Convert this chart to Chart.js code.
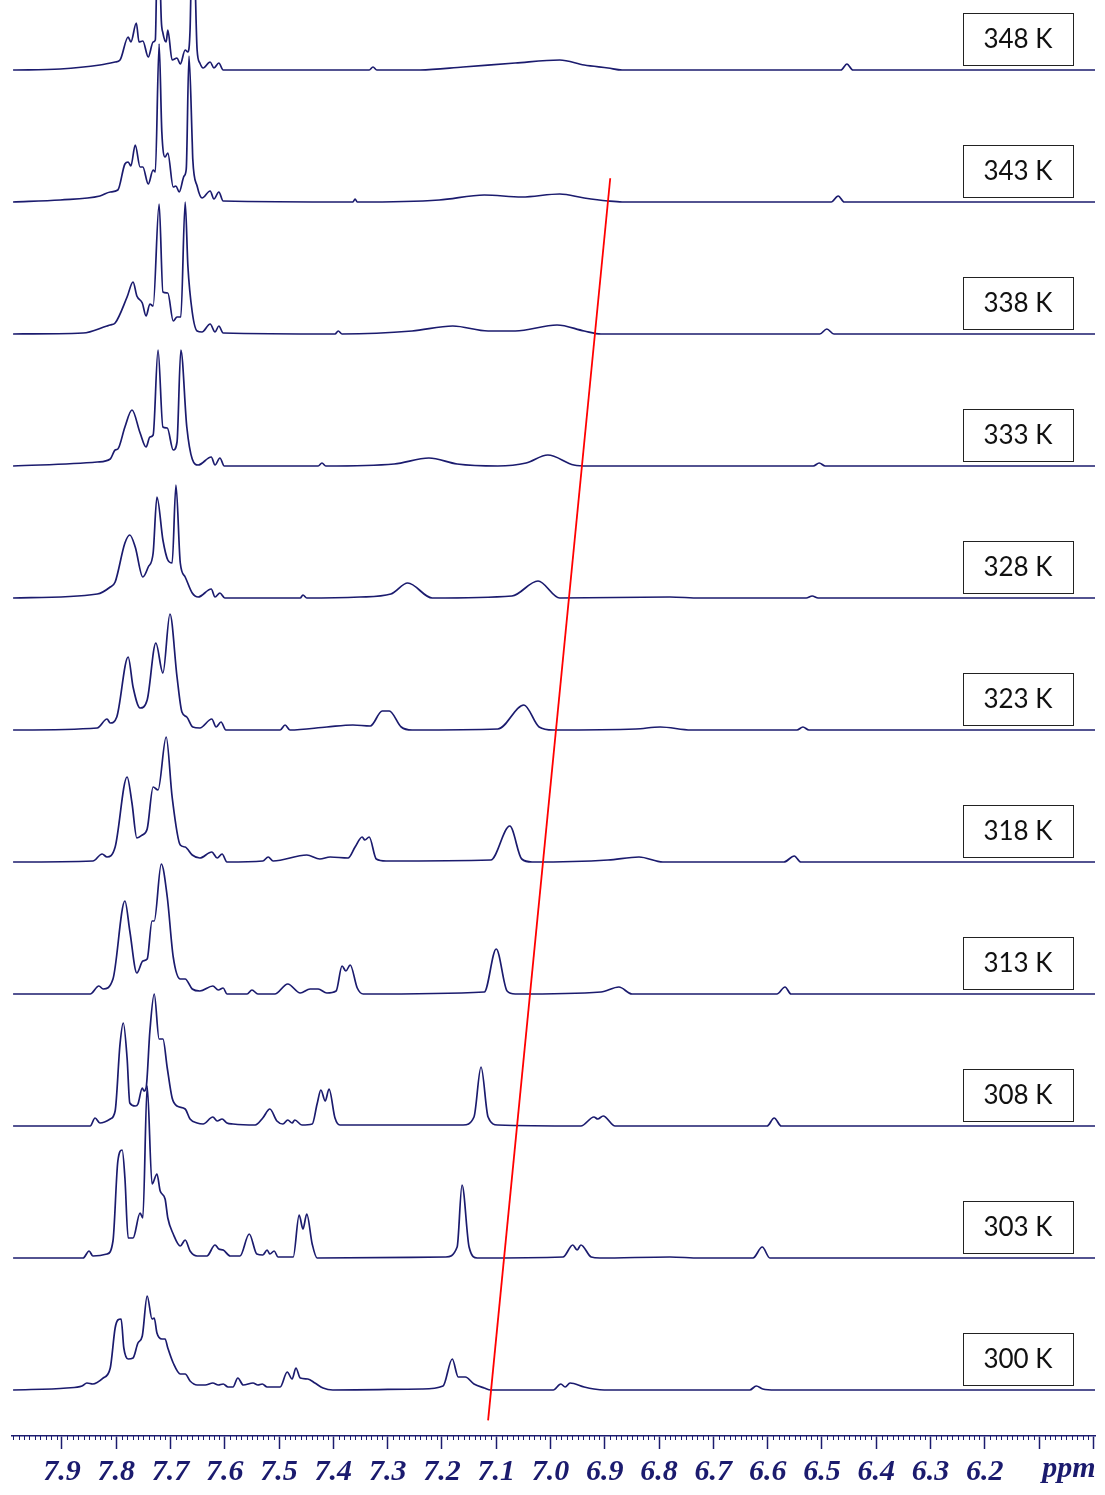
<!DOCTYPE html>
<html>
<head>
<meta charset="utf-8">
<title>VT 1H NMR</title>
<script src="https://cdn.jsdelivr.net/npm/chart.js@4.4.1/dist/chart.umd.min.js"></script>
<style>
  html, body { margin: 0; padding: 0; background: #fff; overflow: hidden; }
  #spec { display: block; }
</style>
</head>
<body>
<canvas id="spec" width="1105" height="1495"></canvas>
<script>
// temperatures, bottom trace first
const temps = ['300 K', '303 K', '308 K', '313 K', '318 K', '323 K', '328 K', '333 K', '338 K', '343 K', '348 K'];

// each spectrum: [ppm, intensity above its own baseline]
const spec300 = [[7.990,0],[7.891,2],[7.863,4],[7.854,7],[7.843,6],[7.824,12],[7.811,22],[7.802,62],[7.797,70],[7.791,71],[7.786,42],[7.778,31],[7.769,32],[7.760,47],[7.752,54],[7.743,94],[7.734,71],[7.730,72],[7.725,57],[7.716,51],[7.710,51],[7.705,42],[7.695,27],[7.682,16],[7.673,16],[7.664,9],[7.651,5],[7.636,5],[7.622,7],[7.612,5],[7.603,6],[7.594,3],[7.585,3],[7.576,12],[7.566,5],[7.548,7],[7.539,5],[7.531,6],[7.522,3],[7.498,3],[7.485,18],[7.476,11],[7.469,22],[7.461,12],[7.447,11],[7.434,7],[7.419,2],[7.401,0],[7.237,1],[7.198,4],[7.181,31],[7.170,13],[7.157,13],[7.141,6],[7.122,2],[7.110,0],[6.995,0],[6.981,6],[6.973,3],[6.964,7],[6.938,3],[6.920,1],[6.901,0],[6.633,0],[6.621,4],[6.609,1],[6.586,0],[5.997,0]];
const spec303 = [[7.990,0],[7.861,0],[7.850,7],[7.843,2],[7.817,4],[7.806,17],[7.797,97],[7.789,108],[7.784,80],[7.778,20],[7.769,20],[7.756,45],[7.751,40],[7.743,172],[7.734,74],[7.725,84],[7.719,67],[7.710,59],[7.705,40],[7.695,24],[7.682,12],[7.673,18],[7.664,7],[7.651,2],[7.633,2],[7.618,13],[7.611,9],[7.603,8],[7.590,2],[7.572,2],[7.555,24],[7.541,4],[7.530,3],[7.522,8],[7.517,4],[7.509,7],[7.502,1],[7.474,1],[7.463,43],[7.456,29],[7.449,44],[7.439,14],[7.430,0],[7.193,1],[7.172,11],[7.163,73],[7.150,11],[7.135,0],[6.977,1],[6.959,13],[6.951,8],[6.944,13],[6.925,1],[6.909,0],[6.780,1],[6.725,0],[6.627,0],[6.610,11],[6.596,0],[5.997,0]];
const spec308 = [[7.990,0],[7.848,0],[7.839,8],[7.830,3],[7.811,7],[7.802,15],[7.793,82],[7.787,103],[7.780,68],[7.775,23],[7.765,20],[7.760,22],[7.752,38],[7.749,35],[7.745,38],[7.738,95],[7.730,132],[7.721,87],[7.714,87],[7.706,58],[7.697,28],[7.688,20],[7.673,17],[7.664,7],[7.651,3],[7.640,2],[7.622,9],[7.614,5],[7.605,7],[7.596,3],[7.585,2],[7.544,1],[7.530,8],[7.517,17],[7.504,5],[7.493,2],[7.484,6],[7.476,3],[7.471,6],[7.458,1],[7.439,2],[7.430,22],[7.423,36],[7.415,25],[7.408,37],[7.397,8],[7.388,1],[7.161,1],[7.141,9],[7.128,59],[7.115,9],[7.097,1],[6.944,0],[6.920,9],[6.913,7],[6.903,10],[6.881,0],[6.601,0],[6.588,8],[6.575,0],[5.997,0]];
const spec313 = [[7.990,0],[7.848,0],[7.832,8],[7.824,5],[7.806,15],[7.784,93],[7.775,63],[7.762,21],[7.751,33],[7.743,35],[7.734,73],[7.730,73],[7.717,130],[7.706,97],[7.695,37],[7.682,15],[7.673,15],[7.660,5],[7.646,3],[7.622,8],[7.612,4],[7.603,6],[7.596,0],[7.559,0],[7.550,4],[7.539,0],[7.508,0],[7.484,10],[7.461,1],[7.443,5],[7.428,5],[7.412,1],[7.395,3],[7.384,28],[7.377,23],[7.369,29],[7.356,6],[7.345,0],[7.122,2],[7.100,45],[7.080,3],[7.065,0],[6.907,2],[6.874,7],[6.850,0],[6.583,0],[6.568,7],[6.557,0],[5.997,0]];
const spec318 = [[7.990,0],[7.843,1],[7.826,8],[7.817,5],[7.802,15],[7.780,85],[7.771,59],[7.762,24],[7.752,27],[7.743,33],[7.732,75],[7.723,72],[7.708,125],[7.697,65],[7.682,17],[7.673,15],[7.660,7],[7.646,4],[7.624,10],[7.614,4],[7.605,8],[7.596,0],[7.530,1],[7.520,5],[7.511,1],[7.449,7],[7.425,3],[7.406,5],[7.373,4],[7.360,15],[7.347,25],[7.342,22],[7.334,25],[7.321,3],[7.303,1],[7.110,2],[7.075,36],[7.053,3],[7.034,0],[6.894,2],[6.837,5],[6.793,0],[6.570,0],[6.551,6],[6.539,0],[5.997,0]];
const spec323 = [[7.990,0],[7.835,2],[7.817,11],[7.811,7],[7.799,13],[7.778,73],[7.769,43],[7.756,22],[7.743,30],[7.727,87],[7.714,57],[7.701,116],[7.688,53],[7.679,18],[7.670,13],[7.659,3],[7.646,2],[7.624,11],[7.616,3],[7.607,8],[7.598,0],[7.498,0],[7.489,5],[7.480,0],[7.412,3],[7.364,5],[7.332,4],[7.310,19],[7.297,19],[7.275,3],[7.255,0],[7.097,1],[7.049,25],[7.021,3],[6.995,0],[6.843,1],[6.798,3],[6.741,0],[6.546,0],[6.535,3],[6.524,0],[5.997,0]];
const spec328 = [[7.990,0],[7.835,4],[7.811,11],[7.802,16],[7.784,55],[7.775,63],[7.765,51],[7.751,21],[7.741,31],[7.732,45],[7.725,101],[7.714,58],[7.705,38],[7.697,35],[7.690,113],[7.682,35],[7.673,21],[7.660,5],[7.649,1],[7.625,9],[7.618,1],[7.609,5],[7.600,0],[7.461,0],[7.456,3],[7.449,0],[7.351,1],[7.294,4],[7.263,15],[7.218,0],[7.071,2],[7.023,17],[6.983,0],[6.780,1],[6.725,0],[6.529,0],[6.518,2],[6.507,0],[5.997,0]];
const spec333 = [[7.990,0],[7.835,4],[7.811,7],[7.802,16],[7.797,17],[7.784,39],[7.771,56],[7.756,33],[7.745,19],[7.738,29],[7.732,31],[7.723,116],[7.714,39],[7.706,38],[7.695,16],[7.688,24],[7.681,116],[7.670,39],[7.660,7],[7.649,1],[7.625,9],[7.618,1],[7.609,8],[7.601,0],[7.428,0],[7.421,3],[7.414,0],[7.288,2],[7.224,8],[7.172,2],[7.097,0],[7.045,3],[7.005,11],[6.957,1],[6.931,0],[6.516,0],[6.505,3],[6.494,0],[5.997,0]];
const spec338 = [[7.990,0],[7.861,1],[7.817,8],[7.811,9],[7.802,11],[7.780,37],[7.769,52],[7.762,38],[7.752,31],[7.745,18],[7.738,30],[7.732,28],[7.721,130],[7.714,42],[7.705,41],[7.695,13],[7.688,17],[7.681,17],[7.673,132],[7.668,68],[7.660,22],[7.651,3],[7.642,2],[7.627,10],[7.618,2],[7.611,8],[7.603,1],[7.397,0],[7.391,3],[7.384,0],[7.255,3],[7.180,8],[7.115,3],[7.065,3],[6.988,9],[6.938,3],[6.907,0],[6.504,0],[6.491,5],[6.478,0],[5.997,0]];
const spec343 = [[7.990,0],[7.903,2],[7.830,6],[7.811,10],[7.797,12],[7.784,38],[7.778,40],[7.773,36],[7.765,57],[7.756,35],[7.751,35],[7.741,18],[7.732,32],[7.728,30],[7.721,158],[7.716,70],[7.710,45],[7.705,49],[7.695,15],[7.690,16],[7.684,10],[7.675,26],[7.671,33],[7.666,146],[7.660,60],[7.659,43],[7.651,16],[7.642,4],[7.627,11],[7.620,3],[7.611,10],[7.603,1],[7.364,0],[7.360,3],[7.356,0],[7.205,2],[7.122,7],[7.053,5],[6.983,8],[6.938,4],[6.894,1],[6.868,0],[6.483,0],[6.470,6],[6.459,0],[5.997,0]];
const spec348 = [[7.990,0],[7.903,1],[7.830,5],[7.802,8],[7.793,10],[7.778,33],[7.773,28],[7.763,47],[7.758,28],[7.751,29],[7.741,13],[7.732,28],[7.728,30],[7.723,165],[7.717,50],[7.714,37],[7.708,28],[7.705,40],[7.697,10],[7.688,12],[7.682,6],[7.673,20],[7.668,18],[7.664,40],[7.659,165],[7.651,20],[7.646,7],[7.640,2],[7.627,8],[7.620,2],[7.611,7],[7.603,0],[7.334,0],[7.327,3],[7.320,0],[7.240,0],[7.161,3],[7.065,7],[6.983,10],[6.938,5],[6.894,2],[6.868,0],[6.465,0],[6.454,6],[6.443,0],[5.997,0]];

// guide line: [ppm, stack position in trace units]
const trendLine = [[6.890, 9.18], [7.115, -0.23]];

const majorTicks = [7.9, 7.8, 7.7, 7.6, 7.5, 7.4, 7.3, 7.2, 7.1, 7.0, 6.9, 6.8, 6.7, 6.6, 6.5, 6.4, 6.3, 6.2, 6.1, 6.0];

const spectra = [spec300, spec303, spec308, spec313, spec318, spec323, spec328, spec333, spec338, spec343, spec348];

const navy = '#1b1b6e';
const baseY = 46, stepY = 132;
const axisFont = { family: '"Liberation Serif", "DejaVu Serif", serif', size: 30, style: 'italic', weight: 'bold' };

const axisExtras = {
  id: 'axisExtras',
  afterDraw(chart) {
    const x = chart.scales.x, c = chart.ctx, top = chart.chartArea.bottom;
    c.save();
    c.strokeStyle = navy;
    c.lineWidth = 1;
    for (let i = 600; i <= 799; i++) {
      if (i % 10 === 0) continue;
      const px = Math.round(x.getPixelForValue(i / 100)) + 0.5;
      c.beginPath();
      c.moveTo(px, top);
      c.lineTo(px, top + 4);
      c.stroke();
    }
    c.font = 'italic bold 30px "Liberation Serif"';
    c.fillStyle = navy;
    c.textAlign = 'center';
    c.textBaseline = 'top';
    c.fillText('ppm', x.getPixelForValue(6.045), top + 13 + 5);
    c.restore();
  }
};

const tempBoxes = {
  id: 'tempBoxes',
  afterDatasetsDraw(chart) {
    const y = chart.scales.y, c = chart.ctx, right = chart.chartArea.right;
    c.save();
    temps.forEach((t, i) => {
      const base = Math.round(y.getPixelForValue(baseY + stepY * i));
      const bx = right - 132, by = base - 57;
      c.fillStyle = '#fff';
      c.fillRect(bx, by, 110, 52);
      c.strokeStyle = '#222';
      c.lineWidth = 1;
      c.strokeRect(bx + 0.5, by + 0.5, 110, 52);
      c.fillStyle = '#111';
      c.font = '26px Lato';
      c.textAlign = 'center';
      c.textBaseline = 'middle';
      c.fillText(t, bx + 55, by + 27);
    });
    c.restore();
  }
};

const datasets = spectra.map((s, i) => ({
  label: temps[i],
  data: s.map(p => ({ x: p[0], y: baseY + stepY * i + p[1] })),
  borderColor: navy,
  borderWidth: 1.7,
  pointRadius: 0,
  fill: false,
  cubicInterpolationMode: 'monotone',
  order: 1
}));
datasets.push({
  label: 'shift',
  data: trendLine.map(p => ({ x: p[0], y: baseY + stepY * p[1] })),
  borderColor: '#ff0000',
  borderWidth: 1.8,
  pointRadius: 0,
  fill: false,
  order: 0
});

new Chart(document.getElementById('spec'), {
  type: 'line',
  data: { datasets: datasets },
  options: {
    responsive: false,
    animation: false,
    layout: { padding: { left: 12, right: 10, top: 0, bottom: 0 } },
    plugins: { legend: { display: false }, tooltip: { enabled: false } },
    scales: {
      x: {
        type: 'linear',
        reverse: true,
        min: 5.997,
        max: 7.992,
        afterFit(scale) { scale.height = 59; },
        afterBuildTicks(scale) { scale.ticks = majorTicks.map(v => ({ value: v })); },
        border: { display: true, color: navy, width: 1.5 },
        grid: { drawOnChartArea: false, drawTicks: true, tickLength: 13, tickColor: navy, tickWidth: 1.5 },
        ticks: {
          autoSkip: false,
          maxRotation: 0,
          padding: 5,
          color: navy,
          font: axisFont,
          callback: v => (v > 6.15 ? v.toFixed(1) : '')
        }
      },
      y: { display: false, min: 0, max: 1436 }
    }
  },
  plugins: [axisExtras, tempBoxes]
});
</script>
</body>
</html>
